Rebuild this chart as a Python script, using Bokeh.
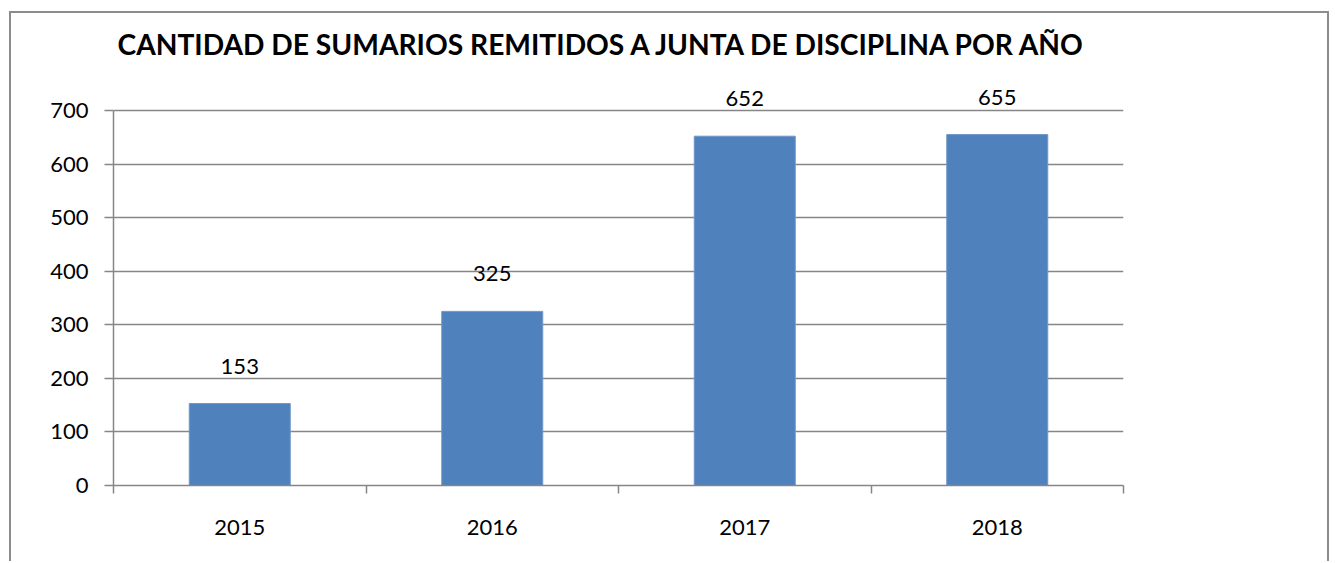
from bokeh.plotting import figure
from bokeh.models import (ColumnDataSource, LabelSet, FixedTicker, Range1d, Title)
from bokeh.core.properties import value
from bokeh.embed import file_html
from bokeh.resources import INLINE

years = ["2015", "2016", "2017", "2018"]
values = [153, 325, 652, 655]
y_ticks = [0, 100, 200, 300, 400, 500, 600, 700]
title_text = "CANTIDAD DE SUMARIOS REMITIDOS A JUNTA DE DISCIPLINA POR AÑO"

FONT = "Lato"
GRAY = "#868686"
BAR = "#4F81BD"

xpos = [i + 0.5 for i in range(len(years))]
src = ColumnDataSource(dict(x=xpos, top=values, lab=[str(v) for v in values]))

p = figure(width=1320, height=550, output_backend="svg", toolbar_location=None,
           x_range=Range1d(0, len(years)), y_range=Range1d(0, 793.3),
           min_border_left=102, min_border_right=208,
           min_border_top=47, min_border_bottom=78)
p.margin = (11, 0, 0, 9)
p.styles = {"border-top": "2px solid #8c8c8c", "border-left": "2px solid #8c8c8c",
            "border-right": "2px solid #8c8c8c"}
p.outline_line_color = None
p.background_fill_color = "white"
p.border_fill_color = "white"

t = Title(text=title_text, align="left", offset=4, standoff=0,
          text_font=FONT, text_font_size="28.2px", text_font_style="bold",
          text_color="black")
p.add_layout(t, "above")

p.vbar(x="x", top="top", width=0.4, source=src, fill_color=BAR,
       line_color="#6f97c8", line_width=1)

labels = LabelSet(x="x", y="top", text="lab", source=src, y_offset=30,
                  text_align="center", text_baseline="alphabetic",
                  text_font=value(FONT), text_font_size="22px", text_color="black")
p.add_layout(labels)

# y axis
p.yaxis.bounds = (0, 700)
p.yaxis.ticker = FixedTicker(ticks=y_ticks)
p.yaxis.axis_line_color = GRAY
p.yaxis.axis_line_width = 1.5
p.yaxis.major_tick_line_color = GRAY
p.yaxis.major_tick_line_width = 1.5
p.yaxis.major_tick_out = 9
p.yaxis.major_tick_in = 0
p.yaxis.minor_tick_line_color = None
p.yaxis.major_label_standoff = 16
p.yaxis.major_label_text_font = FONT
p.yaxis.major_label_text_font_size = "22px"
p.yaxis.major_label_text_color = "black"

# x axis
p.xaxis.ticker = FixedTicker(ticks=xpos, minor_ticks=list(range(len(years) + 1)))
p.xaxis.major_label_overrides = {x: y for x, y in zip(xpos, years)}
p.xaxis.axis_line_color = GRAY
p.xaxis.axis_line_width = 1.5
p.xaxis.major_tick_line_color = None
p.xaxis.minor_tick_line_color = GRAY
p.xaxis.minor_tick_line_width = 1.5
p.xaxis.minor_tick_out = 8
p.xaxis.minor_tick_in = 0
p.xaxis.major_label_standoff = 26
p.xaxis.major_label_text_font = FONT
p.xaxis.major_label_text_font_size = "22px"
p.xaxis.major_label_text_color = "black"

p.xgrid.grid_line_color = None
p.ygrid.ticker = FixedTicker(ticks=y_ticks)
p.ygrid.grid_line_color = GRAY
p.ygrid.grid_line_width = 1.5

open("out.html", "w").write(file_html(p, INLINE))
